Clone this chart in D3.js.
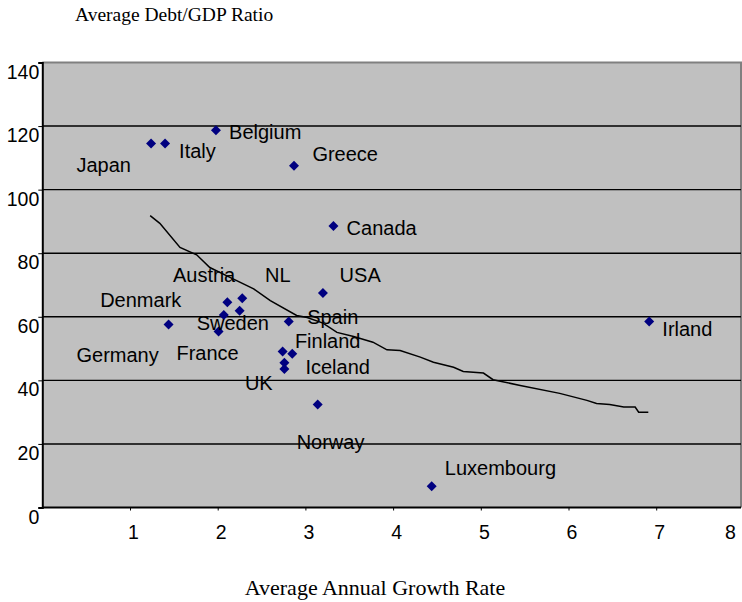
<!DOCTYPE html>
<html>
<head>
<meta charset="utf-8">
<script src="https://cdn.jsdelivr.net/npm/d3@7"></script>
<style>
  body { margin: 0; background: #fff; }
  .tick text, .country { font-family: "Liberation Sans", Arial, sans-serif; fill: #000; }
  .title { font-family: "Liberation Serif", "Times New Roman", serif; fill: #000; }
</style>
</head>
<body>
<svg width="742" height="602"></svg>
<script>
// growth rate (x) and debt/GDP (y) for each country marker
const pointGrowth = [1.24, 1.40, 1.98, 2.87, 3.32, 3.20, 2.11, 2.28, 2.25, 2.07, 2.01, 1.44, 2.81, 2.74, 2.85, 2.76, 2.76, 3.14, 4.44, 6.92]
const pointDebt   = [114.5, 114.5, 118.7, 107.5, 88.6, 67.5, 64.6, 65.8, 61.9, 60.6, 55.4, 57.6, 58.5, 49.1, 48.4, 45.5, 43.6, 32.4, 6.7, 58.5]

// fitted trend line
const trendGrowth = [1.23, 1.34, 1.57, 1.76, 1.91, 2.14, 2.41, 2.60, 2.90, 3.02, 3.20, 3.36, 3.55, 3.77, 3.93, 4.08, 4.31, 4.46, 4.69, 4.80, 5.03, 5.14, 5.45, 5.90, 6.21, 6.32, 6.47, 6.63, 6.76, 6.80, 6.91]
const trendDebt   = [91.8, 89.4, 81.8, 79.5, 75.5, 72.4, 68.8, 65.1, 60.4, 59.8, 58.0, 55.1, 53.8, 52.0, 49.6, 49.4, 47.3, 45.7, 44.1, 42.8, 42.3, 40.2, 38.4, 35.9, 33.7, 32.7, 32.4, 31.6, 31.6, 30.0, 30.0]

// country labels (free text boxes in the original), anchored in data units
const countries  = ['Japan', 'Italy', 'Belgium', 'Greece', 'Canada', 'Austria', 'NL', 'USA', 'Denmark', 'Sweden', 'Spain', 'Irland', 'Germany', 'France', 'Finland', 'Iceland', 'UK', 'Norway', 'Luxembourg']
const labelGrowth = [0.39, 1.56, 2.13, 3.08, 3.47, 1.49, 2.54, 3.39, 0.66, 1.76, 3.02, 7.07, 0.39, 1.53, 2.88, 3.00, 2.31, 2.90, 4.59]
const labelDebt   = [105.4, 109.8, 115.9, 109.0, 85.8, 70.8, 70.8, 70.8, 63.2, 55.9, 57.8, 54.0, 45.7, 46.4, 50.2, 42.0, 37.0, 18.5, 10.1]

const xTicks = [1, 2, 3, 4, 5, 6, 7, 8]
const yTicks = [0, 20, 40, 60, 80, 100, 120, 140]

const svg = d3.select('svg')

const plotLeft = 42.3, plotRight = 741, plotTop = 62.5, plotBottom = 507.5

const x = d3.scaleLinear().domain([0, 8]).range([plotLeft, 743.9])
const y = d3.scaleLinear().domain([0, 140]).range([plotBottom, plotTop])

// plot area
svg.append('rect')
  .attr('x', plotLeft).attr('y', plotTop)
  .attr('width', plotRight - plotLeft).attr('height', plotBottom - plotTop)
  .attr('fill', '#c0c0c0')

// top / right border
svg.append('path')
  .attr('d', `M${plotLeft},${plotTop}H${plotRight}V${plotBottom}`)
  .attr('fill', 'none')
  .attr('stroke', '#808080')
  .attr('stroke-width', 2)

// horizontal grid
svg.append('g')
  .selectAll('line')
  .data(yTicks.filter(d => d > 0 && d < 140))
  .join('line')
  .attr('x1', plotLeft).attr('x2', plotRight)
  .attr('y1', d => y(d)).attr('y2', d => y(d))
  .attr('stroke', '#000')
  .attr('stroke-width', 1.4)

// y axis
const yAxis = svg.append('g')
  .attr('transform', `translate(${plotLeft},0)`)
  .call(d3.axisLeft(y).tickValues(yTicks).tickSize(4).tickPadding(3))
yAxis.select('.domain').attr('stroke', '#000').attr('stroke-width', 2)
yAxis.selectAll('.tick text')
  .attr('font-size', 19.5)
  .attr('dy', 15.5)
  .attr('x', -3)

// x axis
const xAxis = svg.append('g')
  .attr('transform', `translate(0,${plotBottom})`)
  .call(d3.axisBottom(x).tickValues(xTicks).tickSize(3).tickSizeOuter(0))
xAxis.select('.domain').attr('stroke', '#000').attr('stroke-width', 2)
  .attr('d', `M${plotLeft},0H${plotRight}`)
xAxis.selectAll('.tick line').attr('stroke', d => d === 8 ? 'none' : '#000')
xAxis.selectAll('.tick text')
  .attr('font-size', 19.5)
  .attr('y', 0)
  .attr('dy', 31)
  .attr('dx', d => d === 8 ? -14 : 3)

// trend line
svg.append('path')
  .datum(trendGrowth.map((g, i) => [g, trendDebt[i]]))
  .attr('fill', 'none')
  .attr('stroke', '#000')
  .attr('stroke-width', 1.5)
  .attr('d', d3.line().x(d => x(d[0])).y(d => y(d[1])))

// markers
svg.append('g')
  .selectAll('path')
  .data(pointGrowth.map((g, i) => [g, pointDebt[i]]))
  .join('path')
  .attr('d', d3.symbol(d3.symbolSquare, 50))
  .attr('transform', d => `translate(${x(d[0])},${y(d[1])}) rotate(45)`)
  .attr('fill', '#000080')

// country names
svg.append('g')
  .selectAll('text')
  .data(countries)
  .join('text')
  .attr('class', 'country')
  .attr('x', (d, i) => x(labelGrowth[i]))
  .attr('y', (d, i) => y(labelDebt[i]))
  .attr('font-size', 20)
  .text(d => d)

// titles
svg.append('text')
  .attr('class', 'title')
  .attr('x', 75)
  .attr('y', 21)
  .attr('font-size', 19.5)
  .text('Average Debt/GDP Ratio')

svg.append('text')
  .attr('class', 'title')
  .attr('x', 375)
  .attr('y', 595)
  .attr('text-anchor', 'middle')
  .attr('font-size', 22)
  .text('Average Annual Growth Rate')
</script>
</body>
</html>
